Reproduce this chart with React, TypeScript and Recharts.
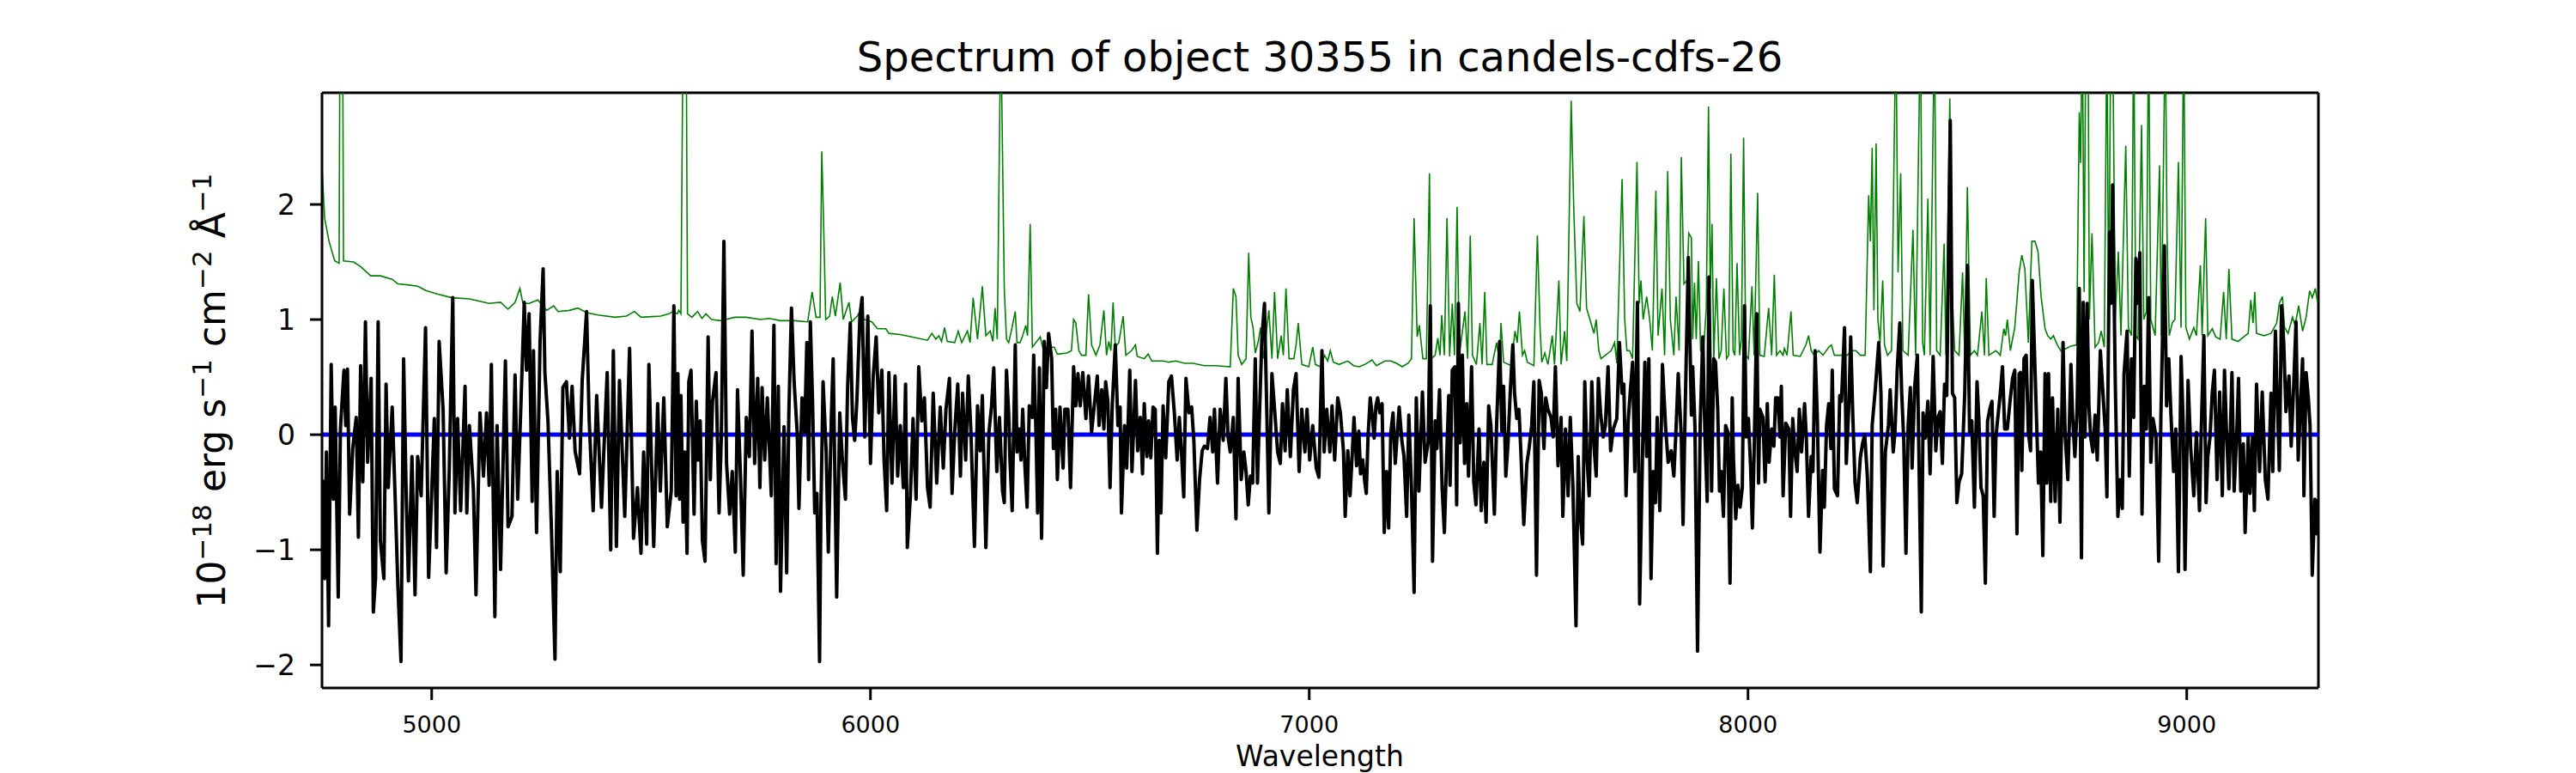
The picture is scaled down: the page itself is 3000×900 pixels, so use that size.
import { LineChart, Line, XAxis, YAxis, ReferenceLine } from 'recharts';

// axis limits and ticks
const X_MIN = 4750;
const X_MAX = 9300;
const Y_MIN = -2.2;
const Y_MAX = 2.97;
const xTicks = [5000, 6000, 7000, 8000, 9000];
const yTicks = [-2, -1, 0, 1, 2];

// flux, [wavelength, 1e-18 erg/s/cm2/A]
const fluxPoints: [number, number][] = [
  [4752, -0.39], [4756, -1.25], [4760, -0.15], [4765, -1.66], [4771, 0.61], [4776, -0.56], [4780, 0.24], [4787, -1.41],
  [4792, 0.05], [4800, 0.56], [4804, 0.08], [4808, 0.57], [4813, -0.69], [4820, -0.12], [4828, 0.15], [4833, -0.89],
  [4838, 0.6], [4843, -0.41], [4849, 0.98], [4854, -0.24], [4862, 0.49], [4867, -1.54], [4872, -1.25], [4878, 0.98],
  [4883, -0.92], [4891, -1.25], [4896, 0.44], [4901, -0.46], [4910, 0.24], [4916, -0.46], [4923, -1.32], [4930, -1.97],
  [4936, 0.66], [4942, -0.54], [4947, -1.27], [4955, -0.19], [4962, -1.39], [4968, -0.19], [4976, -0.53], [4986, 0.93],
  [4993, -1.24], [4999, -0.61], [5006, 0.14], [5011, -0.98], [5017, 0.81], [5026, 0.22], [5033, -1.2], [5040, -0.32],
  [5048, 1.19], [5053, -0.68], [5059, 0.14], [5066, -0.66], [5076, 0.42], [5080, -0.68], [5086, 0.08], [5095, -0.47],
  [5101, -1.39], [5110, 0.19], [5118, -0.36], [5125, 0.19], [5131, -0.44], [5136, 0.61], [5144, -1.58], [5149, 0.08],
  [5157, -1.17], [5168, 0.64], [5174, -0.8], [5183, -0.71], [5190, 0.52], [5196, -0.56], [5203, 0.22], [5211, 1.15],
  [5216, 0.56], [5222, 1.05], [5229, -0.58], [5232, 0.73], [5239, -0.85], [5247, 0.81], [5254, 1.44], [5258, 0.54],
  [5265, 0.12], [5273, -0.83], [5281, -1.95], [5286, -0.32], [5293, -1.19], [5299, 0.41], [5307, 0.46], [5314, -0.03],
  [5320, 0.42], [5327, -0.15], [5337, -0.34], [5343, 0.47], [5353, 1.07], [5359, 0.12], [5368, -0.66], [5376, 0.34],
  [5387, -0.63], [5400, 0.54], [5408, -1.0], [5414, 0.73], [5421, -0.97], [5428, 0.47], [5440, -0.71], [5451, 0.75],
  [5460, -0.9], [5469, -0.46], [5477, -1.03], [5483, -0.15], [5490, -0.95], [5495, 0.61], [5506, -0.97], [5515, 0.27],
  [5521, -0.49], [5529, 0.32], [5537, -0.8], [5546, -0.49], [5552, 1.12], [5557, -0.53], [5561, 0.53], [5565, -0.56],
  [5568, 0.34], [5573, -0.76], [5577, -0.15], [5582, -1.03], [5586, 0.46], [5591, 0.56], [5598, -0.69], [5603, 0.29],
  [5607, -0.22], [5612, 0.12], [5617, -0.92], [5623, -1.1], [5630, 0.85], [5635, -0.39], [5640, 0.29], [5648, 0.54],
  [5655, -0.68], [5660, -0.03], [5666, 1.68], [5672, -0.25], [5679, -0.69], [5685, -0.32], [5692, -1.02], [5697, 0.39],
  [5704, -0.39], [5710, -1.22], [5717, 0.15], [5724, -0.19], [5730, 0.9], [5736, -0.25], [5743, 0.49], [5748, -0.46],
  [5753, 0.41], [5759, -0.22], [5765, 0.32], [5774, -0.53], [5780, 0.95], [5785, -1.12], [5790, 0.42], [5795, -1.36],
  [5803, 0.07], [5809, -1.2], [5814, 0.19], [5820, 1.1], [5826, 0.46], [5833, 0.02], [5837, -0.64], [5844, 0.32],
  [5850, 0.02], [5855, 0.8], [5859, -0.39], [5863, 0.98], [5868, 0.29], [5873, -0.68], [5878, -0.51], [5884, -1.97],
  [5887, -0.66], [5892, 0.46], [5899, -0.14], [5904, -1.02], [5911, 0.17], [5915, 0.66], [5923, -1.41], [5930, 0.19],
  [5936, -0.22], [5943, -0.56], [5948, 0.42], [5954, 0.97], [5959, 0.15], [5964, -0.05], [5969, 0.29], [5976, 1.03],
  [5981, 1.19], [5987, -0.02], [5994, 1.03], [6000, -0.25], [6006, 0.49], [6013, 0.85], [6019, 0.19], [6026, 0.56],
  [6031, -0.22], [6037, -0.66], [6042, 0.54], [6049, -0.42], [6056, 0.51], [6062, -0.36], [6068, 0.08], [6075, -0.46],
  [6080, 0.44], [6084, -0.98], [6091, -0.53], [6097, 0.14], [6104, -0.56], [6110, 0.59], [6117, 0.12], [6123, 0.32],
  [6130, -0.46], [6136, -0.63], [6143, 0.36], [6151, -0.42], [6159, 0.24], [6166, -0.29], [6172, 0.22], [6180, 0.49],
  [6186, -0.51], [6192, 0.03], [6199, 0.44], [6205, -0.36], [6210, 0.36], [6217, -0.22], [6223, 0.51], [6229, 0.02],
  [6237, -0.97], [6244, 0.25], [6250, -0.14], [6255, 0.34], [6263, -0.98], [6270, 0.02], [6276, 0.25], [6281, 0.58],
  [6288, -0.32], [6294, 0.15], [6301, -0.49], [6305, -0.59], [6310, 0.56], [6315, 0.19], [6318, -0.22], [6323, -0.66],
  [6330, 0.78], [6334, -0.15], [6339, 0.05], [6343, -0.22], [6347, 0.22], [6352, -0.27], [6357, -0.63], [6362, 0.25],
  [6369, 0.15], [6372, 0.69], [6377, 0.05], [6381, -0.68], [6385, 0.58], [6390, -0.9], [6396, 0.81], [6401, 0.41],
  [6406, 0.88], [6413, 0.66], [6417, -0.12], [6422, 0.22], [6426, -0.39], [6432, 0.24], [6439, -0.29], [6443, 0.22],
  [6450, 0.22], [6456, -0.46], [6463, 0.59], [6468, 0.25], [6473, 0.53], [6478, 0.25], [6484, 0.54], [6491, 0.14],
  [6497, 0.51], [6504, 0.02], [6510, 0.25], [6517, 0.51], [6521, 0.08], [6527, 0.39], [6532, 0.05], [6536, 0.46],
  [6541, 0.29], [6546, -0.46], [6551, 0.25], [6558, 0.78], [6564, 0.08], [6569, 0.24], [6572, -0.68], [6579, 0.08],
  [6584, -0.29], [6591, 0.56], [6596, -0.32], [6604, 0.47], [6609, -0.14], [6615, 0.15], [6620, -0.34], [6624, 0.27],
  [6630, -0.19], [6634, 0.12], [6639, -0.2], [6644, 0.24], [6649, 0.22], [6654, -1.03], [6658, -0.05], [6662, -0.68],
  [6667, 0.25], [6673, -0.2], [6680, 0.46], [6686, 0.51], [6693, 0.17], [6699, -0.22], [6704, 0.15], [6709, -0.17],
  [6714, -0.54], [6719, 0.49], [6726, 0.19], [6732, 0.24], [6737, -0.05], [6744, -0.83], [6750, -0.39], [6756, -0.14],
  [6761, -0.1], [6768, -0.12], [6774, 0.15], [6780, -0.15], [6784, 0.22], [6791, -0.42], [6797, 0.22], [6804, -0.05],
  [6810, 0.49], [6815, -0.02], [6820, -0.15], [6827, 0.15], [6833, -0.73], [6838, 0.49], [6845, -0.39], [6851, -0.15],
  [6856, -0.32], [6861, -0.61], [6866, -0.36], [6871, -0.42], [6877, 0.66], [6882, -0.42], [6887, 0.22], [6892, 0.83],
  [6898, 1.14], [6904, 0.08], [6908, -0.68], [6915, 0.53], [6921, 0.22], [6928, -0.15], [6934, -0.25], [6939, 0.27],
  [6945, -0.14], [6950, 0.39], [6957, -0.19], [6964, 0.39], [6970, 0.53], [6977, -0.32], [6983, 0.22], [6990, -0.15],
  [6995, 0.22], [7001, -0.22], [7008, 0.08], [7016, -0.29], [7022, -0.37], [7029, 0.73], [7034, -0.15], [7040, 0.22],
  [7047, -0.15], [7052, 0.25], [7058, -0.22], [7065, 0.32], [7071, 0.19], [7078, -0.14], [7082, -0.71], [7088, -0.14],
  [7093, -0.53], [7098, -0.17], [7102, 0.15], [7108, -0.27], [7113, 0.03], [7117, -0.34], [7122, -0.22], [7126, -0.39],
  [7130, -0.51], [7134, -0.02], [7139, 0.32], [7143, 0.19], [7148, -0.03], [7152, 0.25], [7156, 0.32], [7161, 0.19],
  [7166, 0.27], [7171, -0.85], [7176, -0.32], [7181, -0.81], [7186, 0.02], [7191, 0.19], [7196, -0.25], [7200, -0.03],
  [7205, 0.24], [7211, -0.05], [7216, -0.19], [7222, -0.71], [7227, 0.17], [7233, -0.46], [7239, -1.37], [7244, 0.32],
  [7250, -0.49], [7258, 0.37], [7264, -0.24], [7271, -0.07], [7276, 1.12], [7281, -1.1], [7287, 0.12], [7291, -0.12],
  [7297, 0.39], [7303, -0.47], [7308, -0.85], [7313, -0.22], [7318, 0.34], [7321, -0.44], [7326, 0.56], [7332, 0.59],
  [7336, -0.61], [7340, 1.14], [7344, -0.07], [7349, 0.69], [7354, -0.25], [7359, 0.27], [7363, -0.36], [7370, 0.59],
  [7375, -0.41], [7380, -0.61], [7387, 0.05], [7392, -0.66], [7398, -0.24], [7403, -0.76], [7409, 0.25], [7414, 0.08],
  [7422, -0.69], [7427, 0.08], [7434, 0.81], [7439, 0.03], [7443, 0.42], [7448, -0.36], [7453, -0.08], [7458, 0.36],
  [7464, 0.78], [7468, 0.36], [7473, 0.14], [7478, 0.22], [7482, -0.12], [7489, -0.78], [7496, -0.25], [7501, -0.12],
  [7507, 0.08], [7512, 0.46], [7518, -1.22], [7524, 0.47], [7529, 0.36], [7535, -0.12], [7539, 0.32], [7544, 0.22],
  [7551, 0.15], [7556, -0.02], [7561, 0.59], [7567, -0.27], [7574, 0.15], [7578, -0.71], [7584, 0.05], [7590, -0.53],
  [7595, 0.15], [7601, -0.46], [7608, -1.66], [7613, -0.19], [7617, -0.66], [7623, -0.95], [7628, 0.46], [7633, -0.19],
  [7638, -0.53], [7644, 0.46], [7649, -0.1], [7654, -0.36], [7659, 0.49], [7664, 0.19], [7670, -0.02], [7675, 0.08],
  [7681, 0.59], [7687, -0.14], [7693, 0.05], [7701, 0.14], [7707, 0.8], [7713, 0.36], [7717, 0.44], [7722, -0.53],
  [7727, 0.12], [7732, 0.39], [7737, 0.63], [7742, -0.32], [7748, 1.15], [7753, -1.47], [7760, -0.1], [7765, 0.63],
  [7769, -0.19], [7774, 0.66], [7779, -1.25], [7784, -0.32], [7789, -0.59], [7793, 0.15], [7799, -0.66], [7805, 0.61],
  [7812, 0.08], [7818, -0.24], [7825, -0.14], [7831, -0.36], [7836, 0.05], [7841, 0.53], [7848, -0.02], [7852, -0.78],
  [7857, 0.25], [7864, 1.54], [7871, 0.17], [7874, 0.59], [7879, 0.08], [7885, -1.88], [7891, 0.08], [7897, 0.85],
  [7902, -0.02], [7907, -0.58], [7911, 1.37], [7917, -0.49], [7922, 0.66], [7926, 0.63], [7931, 0.22], [7935, -0.49],
  [7939, -0.32], [7944, -0.71], [7949, 0.08], [7954, 0.02], [7959, -1.29], [7964, 0.32], [7967, -0.22], [7972, -0.73],
  [7977, -0.44], [7982, -0.63], [7987, -0.46], [7992, 1.12], [7996, -0.02], [8001, 0.14], [8006, -0.29], [8010, -0.81],
  [8014, -0.14], [8020, 1.05], [8024, -0.42], [8027, 0.22], [8034, 0.15], [8039, -0.41], [8044, 0.27], [8048, -0.24],
  [8054, 0.05], [8059, -0.1], [8063, 0.32], [8068, 0.32], [8073, -0.02], [8076, 0.42], [8080, -0.53], [8086, 0.1],
  [8093, 0.05], [8097, -0.71], [8102, 0.14], [8107, -0.15], [8112, -0.32], [8117, 0.22], [8122, -0.15], [8129, 0.27],
  [8133, -0.03], [8138, -0.71], [8144, -0.19], [8148, -0.32], [8153, 0.73], [8158, 0.15], [8164, -1.02], [8170, -0.31],
  [8174, -0.63], [8179, 0.08], [8184, 0.27], [8189, -0.12], [8192, 0.56], [8197, -0.47], [8204, -0.53], [8209, 0.34],
  [8213, 0.29], [8220, 0.93], [8224, -0.25], [8230, 0.27], [8234, 0.85], [8239, 0.15], [8244, -0.42], [8249, -0.59],
  [8256, -0.2], [8261, -0.08], [8266, 0.0], [8272, -0.36], [8279, -1.19], [8283, 0.08], [8290, 0.39], [8298, 0.8],
  [8303, 0.36], [8308, -1.14], [8313, -0.15], [8320, 0.08], [8324, 0.39], [8331, -0.15], [8335, 0.02], [8340, 0.56],
  [8346, 0.97], [8350, 0.39], [8355, -0.05], [8360, -1.03], [8365, 0.08], [8370, 0.41], [8374, -0.29], [8380, 0.42],
  [8386, 0.69], [8395, -1.54], [8399, 0.19], [8404, -0.03], [8410, 0.29], [8415, -0.34], [8422, 0.68], [8428, -0.14],
  [8433, 0.15], [8438, 0.2], [8443, -0.25], [8448, 0.44], [8453, 0.34], [8461, 2.73], [8466, 0.36], [8471, 0.32],
  [8476, -0.59], [8481, -0.41], [8487, -0.34], [8494, 0.36], [8500, 1.47], [8505, 0.02], [8510, 0.12], [8516, -0.63],
  [8522, 0.46], [8526, 0.15], [8531, -0.46], [8536, -0.53], [8541, -1.29], [8546, 0.12], [8551, 0.22], [8556, 0.29],
  [8561, -0.71], [8565, -0.02], [8570, 0.17], [8575, 0.36], [8580, 0.59], [8585, 0.05], [8591, 0.05], [8598, 0.32],
  [8603, 0.49], [8608, 0.56], [8613, -0.86], [8618, 0.53], [8621, 0.54], [8624, -0.31], [8629, 0.66], [8634, 0.69],
  [8639, 0.02], [8644, -0.14], [8648, 1.34], [8662, -0.42], [8667, -0.15], [8672, -1.05], [8677, 0.53], [8681, -0.42],
  [8685, 0.53], [8690, -0.58], [8694, 0.32], [8700, -0.58], [8706, 0.22], [8711, -0.76], [8718, 0.8], [8723, -0.02],
  [8729, -0.39], [8736, 0.61], [8740, 0.15], [8745, -0.19], [8750, 0.22], [8755, 1.27], [8760, -1.07], [8764, 1.15],
  [8768, -0.02], [8773, 1.14], [8777, 0.25], [8781, -0.02], [8786, -0.15], [8791, 0.17], [8796, -0.22], [8803, 0.73],
  [8809, 0.36], [8814, 0.05], [8818, -0.54], [8824, 1.76], [8827, 1.14], [8831, 2.17], [8837, 0.46], [8843, -0.71],
  [8848, -0.39], [8853, -0.64], [8857, 0.53], [8864, 0.9], [8869, -0.36], [8874, 0.66], [8879, 0.15], [8884, 1.53],
  [8889, 1.14], [8893, 1.58], [8898, -0.69], [8903, 0.42], [8908, 0.05], [8913, 1.19], [8918, -0.24], [8923, 0.14],
  [8930, -0.02], [8936, -1.1], [8941, 0.15], [8949, 1.64], [8954, 0.25], [8959, 0.66], [8964, 0.17], [8970, -0.32],
  [8975, 0.05], [8981, -1.19], [8987, 0.68], [8992, 0.08], [8996, -1.17], [9003, 0.47], [9009, -0.12], [9016, -0.53],
  [9022, 0.02], [9029, -0.66], [9033, 0.03], [9039, 0.86], [9044, -0.59], [9048, -0.19], [9053, -0.02], [9058, 0.36],
  [9063, 0.56], [9069, -0.39], [9075, 0.37], [9081, -0.53], [9086, 0.56], [9091, -0.02], [9096, -0.47], [9103, 0.54],
  [9108, -0.49], [9114, 0.02], [9118, 0.49], [9123, -0.49], [9129, -0.08], [9133, -0.85], [9140, -0.02], [9144, -0.51],
  [9150, -0.02], [9154, -0.66], [9159, 0.44], [9166, -0.32], [9172, 0.37], [9179, -0.39], [9185, -0.56], [9192, 0.36],
  [9196, -0.32], [9202, 0.9], [9207, 0.22], [9211, -0.31], [9216, 1.12], [9221, 0.8], [9226, 0.2], [9233, 0.51],
  [9238, -0.1], [9244, 0.46], [9249, 0.98], [9254, -0.22], [9259, 0.25], [9264, 0.66], [9267, -0.53], [9272, 0.54],
  [9277, 0.32], [9281, 0.08], [9286, -1.22], [9292, -0.56], [9296, -0.86], [9299, -0.56],
];

// uncertainty (green), same units; 3.6 marks peaks running off the top of the axes
const errorPoints: [number, number][] = [
  [4750, 2.32], [4756, 1.88], [4766, 1.68], [4779, 1.51], [4789, 1.49], [4791, 3.6], [4797, 3.6], [4799, 1.51],
  [4822, 1.5], [4838, 1.46], [4861, 1.38], [4883, 1.38], [4910, 1.35], [4923, 1.31], [4949, 1.3], [4968, 1.29],
  [4988, 1.25], [5014, 1.22], [5046, 1.19], [5086, 1.18], [5131, 1.14], [5157, 1.15], [5174, 1.09], [5190, 1.15],
  [5201, 1.27], [5208, 1.14], [5222, 1.14], [5242, 1.17], [5262, 1.08], [5278, 1.12], [5288, 1.07], [5314, 1.08],
  [5333, 1.1], [5353, 1.06], [5379, 1.04], [5418, 1.02], [5444, 1.03], [5462, 1.07], [5477, 1.02], [5522, 1.03],
  [5541, 1.05], [5550, 1.07], [5560, 1.05], [5563, 1.08], [5568, 1.05], [5573, 3.6], [5580, 3.6], [5583, 1.05],
  [5593, 1.02], [5606, 1.07], [5616, 1.01], [5625, 1.05], [5638, 1.0], [5658, 0.99], [5691, 1.02], [5717, 1.02],
  [5749, 1.0], [5769, 1.01], [5795, 0.99], [5827, 0.99], [5857, 0.98], [5867, 1.24], [5876, 1.02], [5885, 1.02],
  [5889, 2.46], [5893, 1.88], [5898, 1.0], [5907, 1.03], [5913, 1.2], [5920, 1.03], [5931, 1.32], [5938, 1.0],
  [5951, 1.15], [5957, 0.98], [5970, 1.03], [5977, 1.08], [5986, 1.0], [6003, 0.98], [6016, 0.92], [6035, 0.92],
  [6042, 0.88], [6068, 0.87], [6094, 0.85], [6130, 0.82], [6140, 0.88], [6149, 0.83], [6156, 0.86], [6162, 0.81],
  [6169, 0.93], [6175, 0.81], [6192, 0.8], [6200, 0.9], [6208, 0.8], [6221, 0.9], [6227, 0.8], [6234, 1.19],
  [6244, 0.83], [6255, 1.29], [6263, 0.86], [6273, 0.9], [6279, 0.81], [6284, 1.1], [6289, 0.83], [6297, 3.6],
  [6305, 1.27], [6310, 0.83], [6315, 0.8], [6321, 0.9], [6330, 1.07], [6334, 0.8], [6341, 0.8], [6347, 0.86],
  [6354, 0.95], [6358, 0.86], [6364, 1.83], [6369, 0.76], [6377, 0.8], [6387, 0.85], [6393, 0.75], [6409, 0.76],
  [6419, 0.76], [6426, 0.7], [6448, 0.71], [6458, 0.73], [6463, 1.0], [6468, 0.97], [6475, 0.73], [6481, 0.69],
  [6491, 0.69], [6497, 1.22], [6504, 0.78], [6514, 0.69], [6523, 0.78], [6532, 1.08], [6538, 0.69], [6543, 0.81],
  [6548, 0.73], [6553, 1.15], [6558, 0.76], [6566, 0.8], [6576, 1.03], [6582, 0.69], [6595, 0.73], [6604, 0.78],
  [6608, 0.68], [6624, 0.66], [6633, 0.7], [6641, 0.64], [6667, 0.64], [6680, 0.63], [6696, 0.64], [6716, 0.62],
  [6735, 0.62], [6761, 0.6], [6787, 0.6], [6820, 0.59], [6827, 1.27], [6833, 1.2], [6838, 0.69], [6846, 0.61],
  [6856, 0.66], [6862, 1.58], [6867, 1.02], [6872, 0.93], [6877, 0.71], [6884, 0.81], [6889, 0.93], [6895, 0.66],
  [6902, 0.88], [6908, 1.08], [6915, 0.66], [6921, 1.24], [6928, 0.66], [6936, 0.86], [6941, 0.69], [6947, 1.27],
  [6954, 0.66], [6965, 0.66], [6970, 0.78], [6975, 0.97], [6983, 0.61], [6999, 0.59], [7008, 0.76], [7014, 0.61],
  [7025, 0.59], [7035, 0.69], [7042, 0.64], [7048, 0.73], [7055, 0.63], [7068, 0.61], [7088, 0.64], [7101, 0.6],
  [7114, 0.59], [7127, 0.61], [7143, 0.65], [7153, 0.6], [7173, 0.64], [7186, 0.64], [7199, 0.62], [7212, 0.59],
  [7225, 0.62], [7233, 0.66], [7239, 1.88], [7246, 0.85], [7251, 0.95], [7259, 0.66], [7267, 0.66], [7274, 2.27],
  [7278, 0.66], [7287, 0.69], [7293, 0.84], [7298, 0.69], [7302, 1.04], [7308, 0.69], [7314, 1.88], [7320, 0.68],
  [7326, 1.14], [7331, 0.69], [7337, 1.98], [7342, 0.69], [7355, 1.07], [7361, 0.66], [7367, 1.73], [7372, 0.69],
  [7381, 0.61], [7389, 0.97], [7394, 0.61], [7400, 1.24], [7405, 0.61], [7417, 0.61], [7427, 0.8], [7434, 0.63],
  [7437, 0.97], [7443, 0.63], [7460, 0.6], [7469, 0.9], [7474, 0.8], [7479, 1.07], [7486, 0.69], [7491, 0.73],
  [7497, 0.63], [7512, 0.6], [7520, 1.73], [7526, 0.93], [7530, 0.63], [7537, 0.71], [7544, 0.61], [7554, 0.86],
  [7559, 0.61], [7569, 1.34], [7574, 0.61], [7582, 0.9], [7587, 0.64], [7597, 2.9], [7603, 1.95], [7610, 1.14],
  [7617, 1.07], [7626, 1.9], [7632, 1.1], [7642, 0.97], [7649, 0.88], [7654, 1.0], [7660, 0.73], [7665, 0.66],
  [7675, 0.69], [7688, 0.73], [7696, 0.8], [7701, 0.62], [7713, 2.22], [7719, 1.0], [7724, 0.73], [7730, 0.73],
  [7737, 0.66], [7747, 2.37], [7752, 1.14], [7756, 1.34], [7761, 1.0], [7769, 1.2], [7776, 1.0], [7782, 0.73],
  [7790, 2.12], [7795, 0.86], [7804, 1.27], [7810, 0.69], [7817, 2.29], [7823, 1.0], [7831, 0.69], [7836, 1.2],
  [7843, 0.73], [7848, 2.41], [7854, 1.31], [7861, 1.34], [7865, 1.75], [7871, 1.71], [7874, 0.83], [7878, 1.32],
  [7882, 0.83], [7887, 1.51], [7892, 0.73], [7898, 0.69], [7905, 1.1], [7910, 2.85], [7914, 1.27], [7918, 1.83],
  [7922, 0.66], [7928, 1.36], [7934, 0.66], [7939, 0.73], [7945, 1.27], [7951, 0.66], [7956, 0.69], [7961, 2.44],
  [7966, 0.73], [7970, 0.69], [7975, 1.49], [7981, 0.69], [7985, 0.83], [7990, 2.58], [7995, 0.69], [8001, 0.66],
  [8009, 1.29], [8014, 0.69], [8022, 2.1], [8027, 0.69], [8037, 0.68], [8047, 1.1], [8054, 0.69], [8060, 1.39],
  [8065, 0.69], [8073, 0.73], [8080, 0.69], [8083, 0.75], [8089, 0.69], [8098, 1.07], [8103, 0.69], [8119, 0.68],
  [8132, 0.78], [8138, 0.86], [8144, 0.73], [8151, 0.69], [8161, 0.73], [8171, 0.69], [8184, 0.76], [8190, 0.78],
  [8197, 0.69], [8226, 0.69], [8236, 0.73], [8246, 0.73], [8256, 0.69], [8267, 0.69], [8275, 2.08], [8279, 1.68],
  [8283, 2.49], [8287, 1.08], [8292, 2.53], [8296, 1.0], [8301, 0.8], [8307, 1.34], [8311, 0.78], [8318, 0.69],
  [8327, 0.73], [8337, 3.6], [8342, 1.41], [8348, 2.27], [8353, 0.73], [8365, 0.69], [8376, 1.78], [8382, 0.69],
  [8393, 3.6], [8398, 0.8], [8402, 0.69], [8410, 2.05], [8415, 0.69], [8425, 3.6], [8430, 0.73], [8438, 0.69],
  [8447, 1.66], [8451, 0.69], [8460, 2.92], [8464, 1.34], [8471, 0.73], [8481, 0.69], [8489, 1.41], [8494, 0.69],
  [8500, 2.15], [8507, 0.69], [8516, 0.73], [8523, 0.69], [8533, 1.07], [8539, 0.69], [8543, 1.36], [8549, 0.69],
  [8565, 0.73], [8575, 0.69], [8583, 0.92], [8587, 0.86], [8591, 1.0], [8598, 0.73], [8608, 0.93], [8618, 1.41],
  [8624, 1.56], [8631, 1.44], [8639, 0.8], [8647, 1.68], [8654, 1.68], [8661, 1.59], [8668, 1.2], [8677, 0.92],
  [8683, 0.86], [8690, 0.83], [8696, 0.86], [8705, 0.78], [8713, 0.73], [8726, 0.75], [8736, 0.77], [8749, 0.78],
  [8755, 2.8], [8758, 2.36], [8762, 3.6], [8766, 1.24], [8770, 3.6], [8775, 3.6], [8778, 1.0], [8784, 1.75],
  [8791, 0.76], [8799, 0.8], [8805, 0.9], [8812, 0.76], [8818, 3.6], [8822, 1.0], [8827, 3.6], [8831, 3.6],
  [8837, 1.0], [8844, 1.59], [8850, 0.86], [8861, 2.51], [8867, 0.93], [8874, 0.86], [8879, 3.6], [8884, 0.86],
  [8889, 0.83], [8897, 2.69], [8902, 1.0], [8908, 1.07], [8913, 3.6], [8918, 1.0], [8928, 0.86], [8938, 2.34],
  [8942, 0.86], [8951, 3.6], [8955, 1.75], [8960, 0.86], [8967, 0.97], [8973, 1.0], [8981, 2.37], [8987, 0.93],
  [8993, 3.6], [8998, 0.93], [9006, 0.83], [9016, 0.93], [9022, 0.86], [9031, 1.47], [9035, 0.86], [9043, 1.88],
  [9048, 0.86], [9058, 0.92], [9066, 0.85], [9076, 0.83], [9084, 1.24], [9090, 0.83], [9096, 1.44], [9103, 0.83],
  [9117, 0.81], [9130, 0.85], [9140, 0.88], [9146, 1.17], [9151, 0.97], [9155, 1.24], [9159, 0.88], [9176, 0.86],
  [9192, 0.88], [9205, 0.97], [9211, 1.14], [9218, 1.2], [9223, 0.93], [9231, 0.88], [9241, 1.02], [9247, 0.95],
  [9255, 1.12], [9264, 0.9], [9272, 1.02], [9280, 1.25], [9286, 1.19], [9293, 1.27], [9298, 1.15],
];

// zero level
const zeroPoints: [number, number][] = [[X_MIN, 0], [X_MAX, 0]];

const toRows = (pts: [number, number][]) => pts.map(([wl, f]) => ({ wl, f }));
const fluxData = toRows(fluxPoints);
const errorData = toRows(errorPoints);
const zeroData = toRows(zeroPoints);

const FONT = '"DejaVu Sans", sans-serif';
const minus = (v: number) => String(v).replace('-', '\u2212');

export default function App() {
  return (
    <div style={{ position: 'absolute', left: 0, top: 0, width: 3000, height: 900, background: '#fff' }}>
      <LineChart width={3000} height={900} margin={{ top: 108, right: 300, bottom: 39, left: 295 }}>
        <XAxis
          type="number"
          dataKey="wl"
          domain={[X_MIN, X_MAX]}
          allowDataOverflow
          ticks={xTicks}
          height={60}
          tickSize={14}
          tickMargin={19}
          axisLine={{ stroke: '#000', strokeWidth: 3 }}
          tickLine={{ stroke: '#000', strokeWidth: 3 }}
          tick={{ fill: '#000', fontSize: 27, fontFamily: FONT }}
        />
        <YAxis
          type="number"
          dataKey="f"
          domain={[Y_MIN, Y_MAX]}
          allowDataOverflow
          ticks={yTicks}
          width={80}
          tickSize={14}
          tickMargin={17}
          tickFormatter={minus}
          axisLine={{ stroke: '#000', strokeWidth: 3 }}
          tickLine={{ stroke: '#000', strokeWidth: 3 }}
          tick={{ fill: '#000', fontSize: 33, fontFamily: FONT }}
        />
        <ReferenceLine y={Y_MAX} stroke="#000" strokeWidth={3} />
        <ReferenceLine x={X_MAX} stroke="#000" strokeWidth={3} />
        <Line data={errorData} dataKey="f" type="linear" stroke="#008000" strokeWidth={1.6} dot={false} isAnimationActive={false} />
        <Line data={zeroData} dataKey="f" type="linear" stroke="#0000ff" strokeWidth={5} dot={false} isAnimationActive={false} />
        <Line data={fluxData} dataKey="f" type="linear" stroke="#000" strokeWidth={4} strokeLinejoin="round" dot={false} isAnimationActive={false} />
      </LineChart>
      <svg width={3000} height={900} style={{ position: 'absolute', left: 0, top: 0, pointerEvents: 'none' }} fontFamily={FONT}>
        <text x={1537} y={83} textAnchor="middle" fontSize={48} fill="#000">
          Spectrum of object 30355 in candels-cdfs-26
        </text>
        <text x={1537} y={892} textAnchor="middle" fontSize={33} fill="#000">
          Wavelength
        </text>
        <text transform="translate(262,455) rotate(-90)" textAnchor="middle" fontSize={44} fill="#000">
          10<tspan dy={-16} fontSize={31}>{'\u221218'}</tspan>
          <tspan dy={16}> erg s</tspan>
          <tspan dy={-16} fontSize={31}>{'\u22121'}</tspan>
          <tspan dy={16}> cm</tspan>
          <tspan dy={-16} fontSize={31}>{'\u22122'}</tspan>
          <tspan dy={16}> Å</tspan>
          <tspan dy={-16} fontSize={31}>{'\u22121'}</tspan>
        </text>
      </svg>
    </div>
  );
}
